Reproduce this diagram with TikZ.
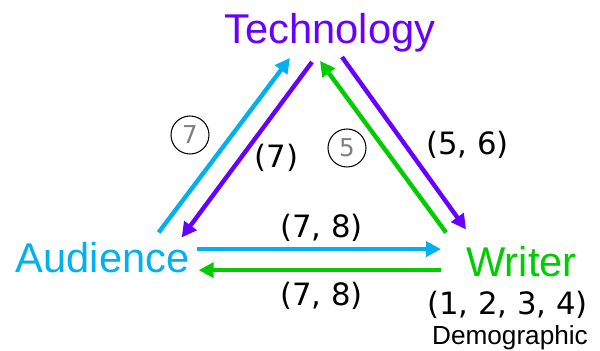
\documentclass[tikz,border=0pt]{standalone}
\usepackage{fontspec}
\setmainfont{Liberation Sans}
\newfontfamily\dvsans{DejaVu Sans}
\usetikzlibrary{arrows.meta, calc}
\definecolor{techviolet}{HTML}{6600FF}
\definecolor{audblue}{HTML}{00B0F0}
\definecolor{wrigreen}{HTML}{00CC00}
\definecolor{numgrey}{HTML}{808080}

\begin{document}
\begin{tikzpicture}[x=0.02cm, y=-0.02cm]
  \tikzstyle{big}=[inner sep=0, anchor=base,
    font=\fontsize{23.7}{28}\selectfont]
  \tikzstyle{lbl}=[inner sep=0, font=\dvsans\fontsize{17.5}{20}\selectfont]
  \tikzstyle{ring}=[draw, circle, line width=0.6pt, minimum size=0.76cm,
    inner sep=0, text=numgrey, font=\dvsans\fontsize{14}{16}\selectfont]
  \tikzstyle{arr}=[line width=2.5pt, -{Triangle[length=8.5pt, width=8.5pt]}]
  \useasboundingbox (0,0) rectangle (600,351);

  % the three corners
  \node[big, text=techviolet] (tech) at (330,44)  {Technology};
  \node[big, text=audblue]    (aud)  at (102.5,273) {Audience};
  \node[big, text=wrigreen]   (wri)  at (521.5,277) {Writer};

  % left side
  \draw[arr, audblue]    ($(aud.north east)+(-31,-10)$) -- ($(tech.south)+(-40,5)$);
  \draw[arr, techviolet] ($(tech.south)+(-18,9)$) -- ($(aud.north east)+(-8,-5)$);
  % right side
  \draw[arr, techviolet] ($(tech.south)+(12,4)$) -- ($(wri.north west)+(0,-17)$);
  \draw[arr, wrigreen]   ($(wri.north west)+(-20,-14)$) -- ($(tech.south)+(-10,8)$);
  % bottom
  \draw[arr, audblue]  ($(aud.east)+(7,-9)$) -- ($(wri.west)+(-25,-13)$);
  \draw[arr, wrigreen] ($(wri.west)+(-25,8)$) -- ($(aud.east)+(9,12)$);

  % labels
  \node[ring] (r7) at (190,135) {7};
  \node[ring] (r5) at (347,148) {5};
  \node[lbl] (l7)   at (276.5,158) {(7)};
  \node[lbl] (l56)  at (467.5,145) {(5, 6)};
  \node[lbl] (l78a) at (321.5,227.5) {(7, 8)};
  \node[lbl] (l78b) at (321.5,296) {(7, 8)};
  \node[lbl] (l1234) at (507.5,305) {(1, 2, 3, 4)};
  \node[inner sep=0, anchor=base, font=\fontsize{14.9}{17}\selectfont]
    (demo) at (510,345) {Demographic};
\end{tikzpicture}
\end{document}
